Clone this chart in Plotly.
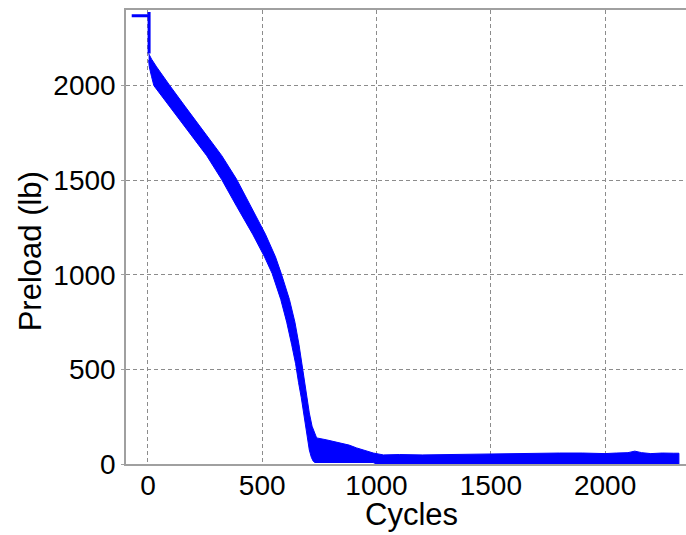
import plotly.graph_objects as go

# Initial static preload before cycling
pre_cycles = [-71, 5, 5, 5]
pre_load = [2370, 2370, 2390, 2170]

# Upper envelope of the oscillating preload band
upper_cycles = [3, 16, 38, 67, 96, 164, 254, 323, 388, 451, 514, 558, 583, 619, 643, 661,
                674, 685, 695, 706, 718, 731, 738, 780, 840, 880, 913, 950, 986, 1030,
                1100, 1200, 1300, 1400, 1500, 1600, 1700, 1800, 1900, 2000, 2050, 2100,
                2130, 2160, 2200, 2250, 2300, 2323]
upper_load = [2170, 2140, 2099, 2047, 2000, 1888, 1745, 1630, 1505, 1360, 1215, 1095, 1008,
              870, 750, 630, 530, 430, 350, 270, 200, 165, 138, 128, 112, 100, 85, 70, 58,
              48, 50, 48, 50, 50, 55, 54, 57, 58, 58, 55, 58, 60, 68, 60, 55, 58, 57, 57]

# Lower envelope of the band
lower_cycles = [3, 6, 16, 26, 96, 186, 257, 322, 389, 458, 510, 543, 581, 607, 629, 646,
                659, 671, 680, 688, 698, 706, 715, 723, 730, 985, 1000, 2323]
lower_load = [2135, 2099, 2047, 2000, 1888, 1745, 1630, 1505, 1360, 1215, 1095, 1008, 870,
              750, 630, 530, 430, 350, 270, 200, 140, 74, 35, 15, 8, 8, 0, 0]

x_ticks = [0, 500, 1000, 1500, 2000]
y_ticks = [0, 500, 1000, 1500, 2000]

BLUE = "#0000FF"
AXIS = "#a0a0a0"
GRID = "#8c8c8c"
FONT = "Liberation Sans, Arial, sans-serif"

band_x = upper_cycles + lower_cycles[::-1]
band_y = upper_load + lower_load[::-1]

fig = go.Figure()
fig.add_trace(go.Scatter(x=band_x, y=band_y, mode="lines", fill="toself",
                         fillcolor=BLUE, line=dict(color=BLUE, width=1),
                         hoverinfo="skip", showlegend=False))
fig.add_trace(go.Scatter(x=pre_cycles, y=pre_load, mode="lines",
                         line=dict(color=BLUE, width=3), showlegend=False))

fig.update_layout(
    width=686, height=535,
    margin=dict(l=126, r=0, t=10, b=71, autoexpand=False),
    paper_bgcolor="white", plot_bgcolor="white",
    font=dict(family=FONT, size=28, color="black"),
    showlegend=False,
    xaxis=dict(range=[-96, 2354], tickvals=x_ticks, showgrid=True, gridcolor=GRID,
               griddash="4px,3px", gridwidth=1, zeroline=False, showline=True,
               linecolor=AXIS, linewidth=1.5, mirror=True, ticks="",
               automargin=False, ticklabelstandoff=-4,
               tickfont=dict(size=28, family=FONT, color="black")),
    yaxis=dict(range=[0, 2400], tickvals=y_ticks, showgrid=True, gridcolor=GRID,
               griddash="4px,3px", gridwidth=1, zeroline=False, showline=True,
               linecolor=AXIS, linewidth=1.5, mirror=False, ticks="outside",
               ticklen=3, tickcolor=AXIS, automargin=False,
               tickfont=dict(size=28, family=FONT, color="black")),
    annotations=[
        dict(text="Cycles", xref="paper", yref="paper", x=0.51, y=-0.112,
             xanchor="center", yanchor="middle", showarrow=False,
             font=dict(size=31, family=FONT, color="black")),
        dict(text="Preload (lb)", xref="paper", yref="paper", x=-0.171, y=0.469,
             xanchor="center", yanchor="middle", textangle=-90, showarrow=False,
             font=dict(size=31, family=FONT, color="black")),
    ],
)

fig.write_html("out.html", config={"displayModeBar": False},
               post_script="document.body.style.margin='0';")
